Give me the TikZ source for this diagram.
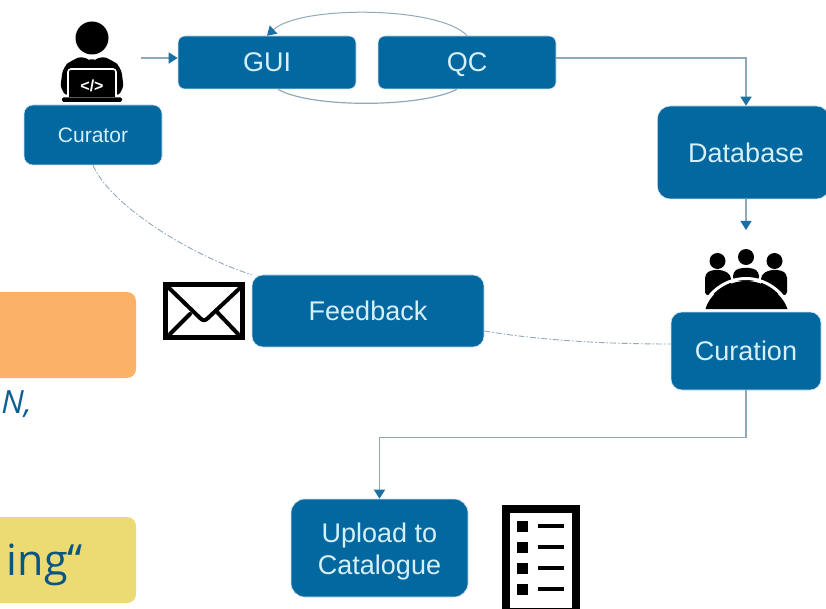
\documentclass[tikz,border=0pt]{standalone}
\usepackage{fontspec}
\setmainfont{Liberation Sans}
\newfontfamily\segoe{Open Sans}
\usetikzlibrary{arrows.meta,calc}
\definecolor{bluefill}{HTML}{03689F}
\definecolor{bluetxt}{HTML}{D6F0FA}
\definecolor{orangefill}{HTML}{FBB266}
\definecolor{yellowfill}{HTML}{ECDA72}
\definecolor{wire}{HTML}{8FA9B8}
\definecolor{tipblue}{HTML}{1B6FA3}
\definecolor{capblue}{HTML}{0B5F92}
\tikzset{
  bluebox/.style={draw=white!80!bluefill,line width=.6pt,fill=bluefill,rounded corners=#1,text=bluetxt,align=center,inner sep=0pt,font=\fontsize{27}{32}\selectfont},
  bluebox/.default=9pt,
  boxtext/.style={text=bluetxt,align=center,inner sep=0pt,font=\fontsize{27}{32}\selectfont},
  wirearrow/.style={draw=wire,line width=1.4pt,-{Triangle[length=9pt,width=11pt,fill=tipblue,color=tipblue]}},
  wireplain/.style={draw=wire,line width=1.2pt},
  wiredash/.style={draw=wire,line width=.9pt,dash pattern=on 6pt off 2pt on 1.5pt off 2pt},
  inkline/.style={draw=black,line cap=round},
}
\begin{document}
\begin{tikzpicture}[x=1pt,y=-1pt]
\useasboundingbox (0,0) rectangle (826,609);
\begin{scope}
\clip (0,0) rectangle (826,609);
\fill[orangefill,rounded corners=9pt] (-40,292) rectangle (136,378);
\fill[yellowfill,rounded corners=9pt] (-40,517) rectangle (136,603);
\node[anchor=base east,inner sep=0pt,text=capblue,font=\segoe\itshape\fontsize{32}{37}\selectfont] (ntext) at (32,413) {N,};
\node[anchor=base east,inner sep=0pt,text=capblue!90!black,font=\segoe\fontsize{43}{48}\selectfont] (ingtext) at (83,575) {ing“};
\node[bluebox,minimum width=138pt,minimum height=60pt,font=\fontsize{21}{25}\selectfont] (curator) at (93,135) {Curator};
\node[bluebox=7pt,minimum width=178pt,minimum height=53pt] (gui) at (267,62.5) {GUI};
\node[bluebox=7pt,minimum width=178pt,minimum height=53pt] (qc) at (467,62.5) {};
\node[boxtext] (qctext) at (467,64.5) {QC};
\node[bluebox=13pt,minimum width=172pt,minimum height=93pt,anchor=west] (database) at (657,152.5) {};
\node[boxtext] (dbtext) at (746,152.5) {Database};
\node[bluebox=11pt,minimum width=150pt,minimum height=78pt] (curation) at (746,351) {Curation};
\node[bluebox=11pt,minimum width=232pt,minimum height=72pt] (feedback) at (368,311) {Feedback};
\node[bluebox=14pt,minimum width=177pt,minimum height=98pt] (upload) at (379.5,548) {};
\node[boxtext] (uploadtext) at (379.5,552) {Upload to\\Catalogue};
\end{scope}
\coordinate (curatorout) at (141,58);
\coordinate (curationin) at (746,230);
\draw[wirearrow] (curatorout) -- (curatorout -| gui.west);
\draw[wirearrow,line width=1pt] (qc.north) .. controls (440,6) and (300,5) .. (gui.north);
\draw[wireplain] ($(gui.south)+(11,0)$) .. controls (310,108) and (420,108) .. ($(qc.south)+(-10,0)$);
\draw[wirearrow] (curatorout -| qc.east) -| (database.north -| curationin);
\draw[wirearrow] (database.south -| curationin) -- (curationin);
\draw[wirearrow] (curation.south) -- ++(0,47) -| (upload.north);
\draw[wiredash] (curator.south) .. controls (110,205) and (190,255) .. (feedback.north west);
\draw[wiredash] ($(feedback.east)+(0,20)$) .. controls (550,342) and (620,344) .. ($(curation.west)+(0,-7)$);
% person at laptop
\fill (92,38) circle (16.5);
\fill[rounded corners=7pt] (60,90) -- (63,67) -- (72,60) -- (84,55.5) .. controls (88,59) and (96,59) .. (100,55.5) -- (112,60) -- (121,67) -- (124,90) -- (115,97) -- (69,97) -- cycle;
\draw[white,line width=1.6pt,rounded corners=3pt,fill=black] (68,97) -- (68,69) -- (116,69) -- (116,97);
\fill[rounded corners=1.5pt] (62,97.5) rectangle (122,102);
\node[text=white,inner sep=0pt,font=\bfseries\fontsize{16}{18}\selectfont] (code) at (92,85.5) {</>};
% envelope
\draw[black,line width=5pt] (165.5,284.5) rectangle (242,337.5);
\draw[inkline,line width=4pt,line join=round] (169,288) -- (200,318) .. controls (203,321) and (205,321) .. (208,318) -- (240,288);
\draw[inkline,line width=4pt] (170,334) -- (190,314);
\draw[inkline,line width=4pt] (238,334) -- (217,312);
% checklist
\draw[black,line width=8pt] (506,509) rectangle (576,612);
\foreach \yy in {526,547,568,589}{
  \fill (517,\yy-5.5) rectangle (528,\yy+5.5);
  \draw[black,line width=4pt] (538,\yy) -- (564,\yy);
}
% people at the table
\fill (746,257) circle (8);
\fill (717.5,261) circle (8);
\fill (774.5,261) circle (8);
\fill[rounded corners=4pt] (733,281) -- (733,272) -- (739,268) -- (753,268) -- (759,272) -- (759,281) -- cycle;
\fill[rounded corners=4pt] (705,296) -- (705,274) -- (711,270) -- (723,270) -- (731,275) -- (731,290) -- cycle;
\fill[rounded corners=4pt] (787,296) -- (787,274) -- (781,270) -- (769,270) -- (761,275) -- (761,290) -- cycle;
\path[draw=white,line width=3pt] (702,310) .. controls (708,291) and (727,278.5) .. (746,278.5) .. controls (765,278.5) and (784,291) .. (790,310);
\fill (705.5,309) .. controls (710,293) and (728,281) .. (746,281) .. controls (764,281) and (782,293) .. (787.5,309) -- cycle;
\end{tikzpicture}
\end{document}
